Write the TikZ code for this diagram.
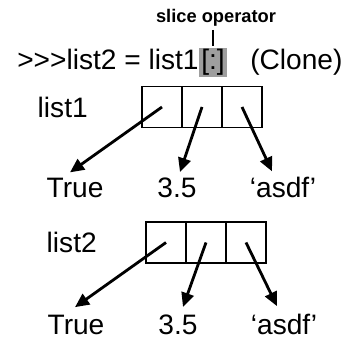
\documentclass[tikz,border=0pt]{standalone}
\usepackage{fontspec}
\setmainfont{Liberation Sans}[Ligatures=TeXOff]
\usepackage{tikz}
\usetikzlibrary{shapes, arrows.meta, positioning}
\usetikzlibrary{calc}

\begin{document}
\begin{tikzpicture}
  [
    Cell/.style={rectangle, draw=black, line width=1.3pt, inner sep=0pt, outer sep=0pt, minimum width=1cm, minimum height=1.025cm},
    Big/.style={inner sep=0pt, font=\fontsize{20}{23}\selectfont},
    Value/.style={Big, anchor=base},
    Gray/.style={Big, fill=black!38, inner xsep=1.5pt, inner ysep=1pt, anchor=base west},
    Ptr/.style={-{Triangle[length=10pt, width=9pt]}, draw, line width=2pt}
  ]
  \useasboundingbox (0,0) rectangle (8.825,-8.5);
  % Nodes
  \node[inner sep=0pt, anchor=base, font=\fontsize{13}{15}\selectfont\bfseries] (slice) at (5.4, -0.575) {slice operator};
  \node[Big, anchor=base west] (cmd) at (0.425, -1.75) {>>>list2 = list1};
  \node[Gray] (br) at (cmd.base east) {[:]};
  \node[Big, anchor=base west] (clone) at (6.25, -1.75) {(Clone)};

  \node[Cell] (c11) at (4.05, -2.675) {};
  \node[Cell, right=0pt of c11] (c12) {};
  \node[Cell, right=0pt of c12] (c13) {};
  \node[Big, left=1.35cm of c11] (list1) {list1};

  \node[Value] (v11) at (1.875, -4.95) {True};
  \node[Value] (v12) at (4.425, -4.95) {3.5};
  \node[Value] (v13) at (7.075, -4.95) {‘asdf’};

  \node[Cell] (c21) at (4.15, -6.0625) {};
  \node[Cell, right=0pt of c21] (c22) {};
  \node[Cell, right=0pt of c22] (c23) {};
  \node[Big, left=1.225cm of c21] (list2) {list2};

  \node[Value] (v21) at (1.9, -8.37) {True};
  \node[Value] (v22) at (4.45, -8.37) {3.5};
  \node[Value] (v23) at (7.1, -8.37) {‘asdf’};
  % Lines
  \path [draw, line width=2pt, shorten <=2pt, shorten >=1.5pt] (slice.south -| br.north) -- (br.north);
  \path [Ptr] (c11.center) -- ($(v11.north)+(-0.125,0.15)$);
  \path [Ptr] (c12.center) -- ($(v12.north)+(0.075,0.15)$);
  \path [Ptr] (c13.center) -- ($(v13.north)+(-0.275,0.15)$);
  \path [Ptr] (c21.center) -- ($(v21.north)+(-0.025,0.2)$);
  \path [Ptr] (c22.center) -- ($(v22.north)+(0.125,0.2)$);
  \path [Ptr] (c23.center) -- ($(v23.north)+(-0.175,0.2)$);
\end{tikzpicture}
\end{document}
